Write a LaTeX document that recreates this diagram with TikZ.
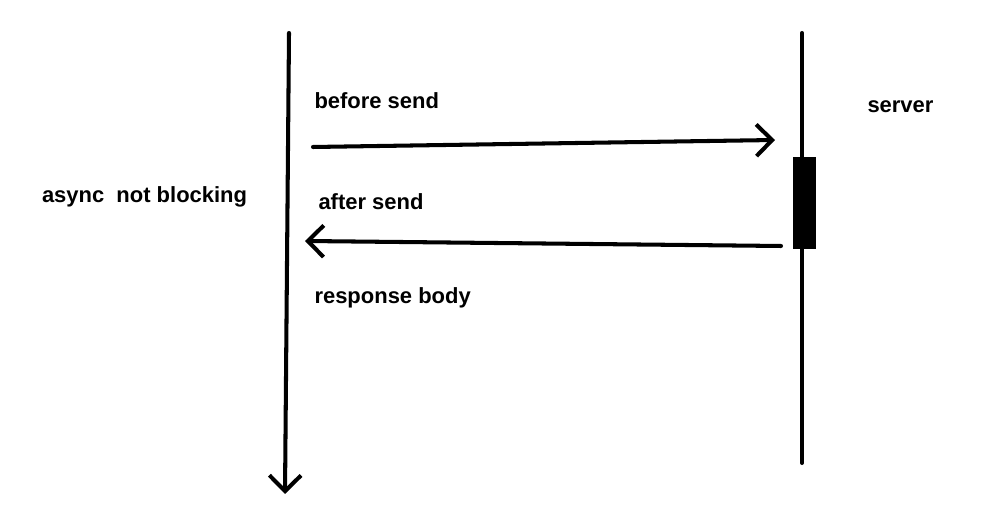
\documentclass[tikz,border=0pt]{standalone}
\usepackage{fontspec}
\setmainfont{Liberation Sans}
\usetikzlibrary{arrows.meta}

\begin{document}
\begin{tikzpicture}[line width=2.3pt,line cap=round,
                    >={Straight Barb[length=9pt,width=18pt,line width=2.3pt]},
                    every node/.style={font=\bfseries\fontsize{12.5pt}{14pt}\selectfont}]
  \useasboundingbox (0,0) rectangle (19.96,10.54);
%  \tikzstyle{lbl}=[anchor=west]
  \tikzset{lbl/.style={anchor=west,inner sep=0pt}}

  % life lines
  \coordinate (ctop)  at (5.78,9.88);
  \coordinate (cbot)  at (5.70,0.66);
  \coordinate (stop)  at (16.04,9.88);
  \coordinate (sbot)  at (16.04,1.28);

  \draw[->] (ctop) -- (cbot);
  \draw (stop) -- (sbot);
  \fill (15.86,5.56) rectangle (16.32,7.40);

  % messages
  \coordinate (req)   at (6.26,7.60);
  \coordinate (reqend) at (15.50,7.74);
  \coordinate (resp)  at (15.62,5.62);
  \coordinate (respend) at (6.10,5.72);

  \draw[->] (req) -- (reqend);
  \draw[->] (resp) -- (respend);

  \node[lbl] (before) at (6.25,8.52) {before send};
  \node[lbl] (server) at (17.31,8.40) {server};
  \node[lbl] (async)  at (0.80,6.60) {async\ \ not blocking};
  \node[lbl] (after)  at (6.33,6.50) {after send};
  \node[lbl] (body)   at (6.25,4.58) {response body};
\end{tikzpicture}
\end{document}
